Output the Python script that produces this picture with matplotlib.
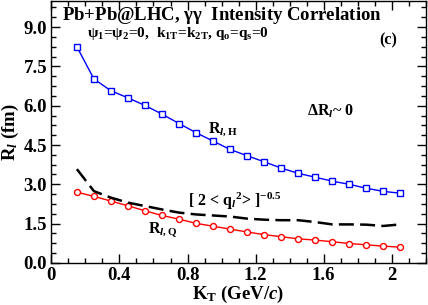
import matplotlib
matplotlib.use("Agg")
import matplotlib.pyplot as plt
from matplotlib.ticker import MultipleLocator, FixedLocator

plt.rcParams['font.family'] = ['Liberation Serif', 'DejaVu Serif']
plt.rcParams['font.weight'] = 'bold'
plt.rcParams['mathtext.fontset'] = 'custom'
plt.rcParams['mathtext.rm'] = 'Liberation Serif:bold'
plt.rcParams['mathtext.bf'] = 'Liberation Serif:bold'
plt.rcParams['mathtext.it'] = 'Liberation Serif:italic'
plt.rcParams['mathtext.default'] = 'rm'

kt = [0.15, 0.25, 0.35, 0.45, 0.55, 0.65, 0.75, 0.85, 0.95, 1.05,
      1.15, 1.25, 1.35, 1.45, 1.55, 1.65, 1.75, 1.85, 1.95, 2.05]
r_h = [8.25, 7.02, 6.57, 6.30, 6.01, 5.68, 5.32, 4.97, 4.65, 4.33,
       4.09, 3.86, 3.62, 3.42, 3.27, 3.12, 3.00, 2.85, 2.73, 2.66]
r_q = [2.70, 2.54, 2.36, 2.18, 1.99, 1.81, 1.67, 1.51, 1.40, 1.29,
       1.18, 1.08, 1.00, 0.92, 0.87, 0.81, 0.74, 0.69, 0.64, 0.60]
r_q2 = [3.58, 2.74, 2.49, 2.30, 2.17, 2.04, 1.92, 1.85, 1.81, 1.77,
        1.69, 1.65, 1.63, 1.63, 1.56, 1.47, 1.47, 1.46, 1.41, 1.47]

fig = plt.figure(figsize=(4.28, 3.05), dpi=100)
ax = fig.add_axes([0.120, 0.138, 0.875, 0.859])

ax.plot(kt, r_h, '-', color='blue', lw=1.0, marker='s', ms=3.8,
        mfc='white', mec='blue', mew=1.0)
ax.plot(kt, r_q, '-', color='red', lw=1.0, marker='o', ms=4.3,
        mfc='white', mec='red', mew=1.0)
ax.plot(kt, r_q2, '--', color='black', lw=1.8, dashes=(6, 2.5))

ax.set_xlim(0, 2.2)
ax.set_ylim(0, 10)
ax.xaxis.set_major_locator(FixedLocator([0, 0.4, 0.8, 1.2, 1.6, 2.0]))
ax.set_xticklabels(['0', '0.4', '0.8', '1.2', '1.6', '2'])
ax.xaxis.set_minor_locator(MultipleLocator(0.1))
ax.yaxis.set_major_locator(FixedLocator([0, 1.5, 3.0, 4.5, 6.0, 7.5, 9.0]))
ax.set_yticklabels(['0.0', '1.5', '3.0', '4.5', '6.0', '7.5', '9.0'])
ax.yaxis.set_minor_locator(MultipleLocator(0.375))
ax.tick_params(which='both', direction='in', top=True, right=True,
               labelsize=13.5, width=1.0)
ax.tick_params(which='major', length=6.5, pad=3)
ax.tick_params(which='minor', length=3.5)
for lab in ax.get_xticklabels() + ax.get_yticklabels():
    lab.set_fontweight('bold')
for s in ax.spines.values():
    s.set_linewidth(1.0)

ax.set_xlabel(r'K$_\mathrm{T}$ (GeV/$\it{c}$)', fontsize=13.5, fontweight='bold', labelpad=0)
ax.set_ylabel(r'R$_{\it{l}}$ (fm)', fontsize=13.5, fontweight='bold', labelpad=2)

ax.text(0.06, 9.45, r'Pb+Pb@LHC, $\gamma\gamma$  Intensity Correlation',
        fontsize=13.5, fontweight='bold', va='center')
ax.text(0.21, 8.75, r'$\psi_1$=$\psi_2$=0,  k$_{1T}$=k$_{2T}$, q$_o$=q$_s$=0',
        fontsize=11, fontweight='bold', va='center')
ax.text(1.98, 8.5, '(c)', fontsize=11.5, fontweight='bold', va='center', ha='center')
ax.text(1.64, 5.77, r'$\Delta$R$_{\it{l}}$~ 0', fontsize=11.5, fontweight='bold',
        va='center', ha='center')
ax.text(0.92, 5.1, r'R$_{\it{l},\mathrm{H}}$', fontsize=11.5, fontweight='bold', va='center')
ax.text(0.80, 2.35, r'[ 2 < q$_{\it{l}}$$^2$> ]$^{-0.5}$', fontsize=11.5,
        fontweight='bold', va='center')
ax.text(0.565, 1.27, r'R$_{\it{l},\mathrm{Q}}$', fontsize=11.5, fontweight='bold', va='center')

fig.savefig('out.png', dpi=100)
